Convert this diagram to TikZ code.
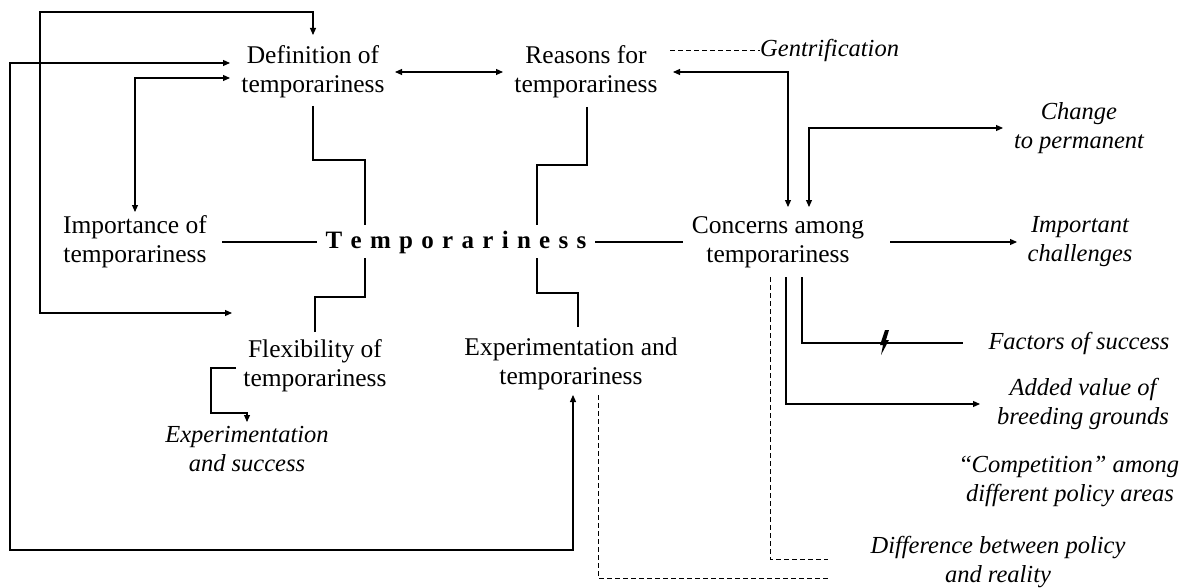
\documentclass[tikz,border=0pt]{standalone}
\usepackage{fontspec}
\setmainfont{Liberation Serif}
\usetikzlibrary{arrows.meta,calc}
\newcommand\lsp{\hspace{8.3pt}}
\begin{document}
\begin{tikzpicture}[x=1pt,y=-1pt,
  lbl/.style={align=center,inner sep=0pt,font=\fontsize{25.5}{29}\selectfont},
  ilbl/.style={align=center,inner sep=0pt,font=\fontsize{24.5}{29}\selectfont\itshape},
  conn/.style={line width=1.1pt,black},
  arr/.style={conn,-{Triangle[length=7pt,width=6pt]}},
  darr/.style={conn,{Triangle[length=7pt,width=6pt]}-{Triangle[length=7pt,width=6pt]}},
  dline/.style={line width=0.9pt,black,dash pattern=on 5pt off 3pt}]
\useasboundingbox (0,0) rectangle (1201,588);

% nodes
\node[lbl] (def) at (313,72) {Definition of\\temporariness};
\node[lbl] (rea) at (586,72) {Reasons for\\temporariness};
\node[ilbl,anchor=west] (gen) at (760,50) {Gentrification};
\node[ilbl] (chg) at (1079,128) {Change\\to permanent};
\node[lbl] (imp) at (135,242) {Importance of\\temporariness};
\node[inner sep=0pt,font=\fontsize{25}{29}\selectfont\bfseries] (tem) at (456,242)
  {T\lsp e\lsp m\lsp p\lsp o\lsp r\lsp a\lsp r\lsp i\lsp n\lsp e\lsp s\lsp s};
\node[lbl] (con) at (778,242) {Concerns among\\temporariness};
\node[ilbl] (ich) at (1080,242) {Important\\challenges};
\node[lbl] (flx) at (315,366) {Flexibility of\\temporariness};
\node[lbl] (exp) at (571,364) {Experimentation and\\temporariness};
\node[ilbl] (fac) at (1079,343) {Factors of success};
\node[ilbl] (add) at (1083,404) {Added value of\\breeding grounds};
\node[ilbl] (cmp) at (1070,481) {{\upshape``}Competition'' among\\different policy areas};
\node[ilbl] (dif) at (998,562) {Difference between policy\\and reality};
\node[ilbl] (eas) at (247,449) {Experimentation\\and success};

% central links
\draw[conn] ($(def)+(0,34)$) |- ($(tem)+(-91,-82)$) -- ($(tem)+(-91,-17)$);
\draw[conn] ($(rea)+(1,35)$) |- ($(tem)+(81,-77)$) -- ($(tem)+(81,-17)$);
\draw[conn] ($(flx)+(0,-34)$) |- ($(tem)+(-91,55)$) -- ($(tem)+(-91,16)$);
\draw[conn] ($(exp)+(7,-37)$) |- ($(tem)+(81,51)$) -- ($(tem)+(81,16)$);
\draw[conn] ($(imp)+(87,0)$) -- ($(tem)+(-139,0)$);
\draw[conn] ($(tem)+(139,0)$) -- ($(con)+(-95,0)$);

% top row
\draw[darr] ($(def)+(82,0)$) -- ($(rea)+(-83,0)$);
\draw[dline] ($(rea)+(84,-22)$) -- (gen.west);
\draw[darr] ($(rea)+(87,0)$) -| ($(con)+(10,-35)$);
\draw[darr] ($(con)+(31,-35)$) |- ($(chg)+(-76,0)$);
\draw[arr] ($(con)+(112,0)$) -- ($(ich)+(-63,0)$);

% concerns branches
\draw[arr] ($(con)+(8,35)$) |- ($(add)+(-103,0)$);
\draw[conn] ($(con)+(24,35)$) |- ($(fac)+(-116,0)$);
\fill ($(con)+(105,101)$) ++(2,-13) -- ++(4,0) -- ++(-3,10) -- ++(3,0) -- ++(-8,15) -- ++(2,-10) -- ++(-3,0) -- cycle;
\draw[dline] ($(con)+(-8,35)$) |- ($(dif)+(-170,-3)$);
\draw[dline] ($(exp)+(27,31)$) |- ($(dif)+(-168,16)$);

% left loops
\draw[darr] ($(def)+(-83,-9)$) -| (10,550) -| ($(exp)+(2,31)$);
\draw[darr] ($(def)+(-83,6)$) -| ($(imp)+(0,-30)$);
\draw[darr] ($(def)+(0,-37)$) |- (40,12) |- ($(flx)+(-83,-53)$);
\draw[arr] ($(flx)+(-79,2)$) -| (211,413) -| ($(eas)+(0,-27)$);
\end{tikzpicture}
\end{document}
